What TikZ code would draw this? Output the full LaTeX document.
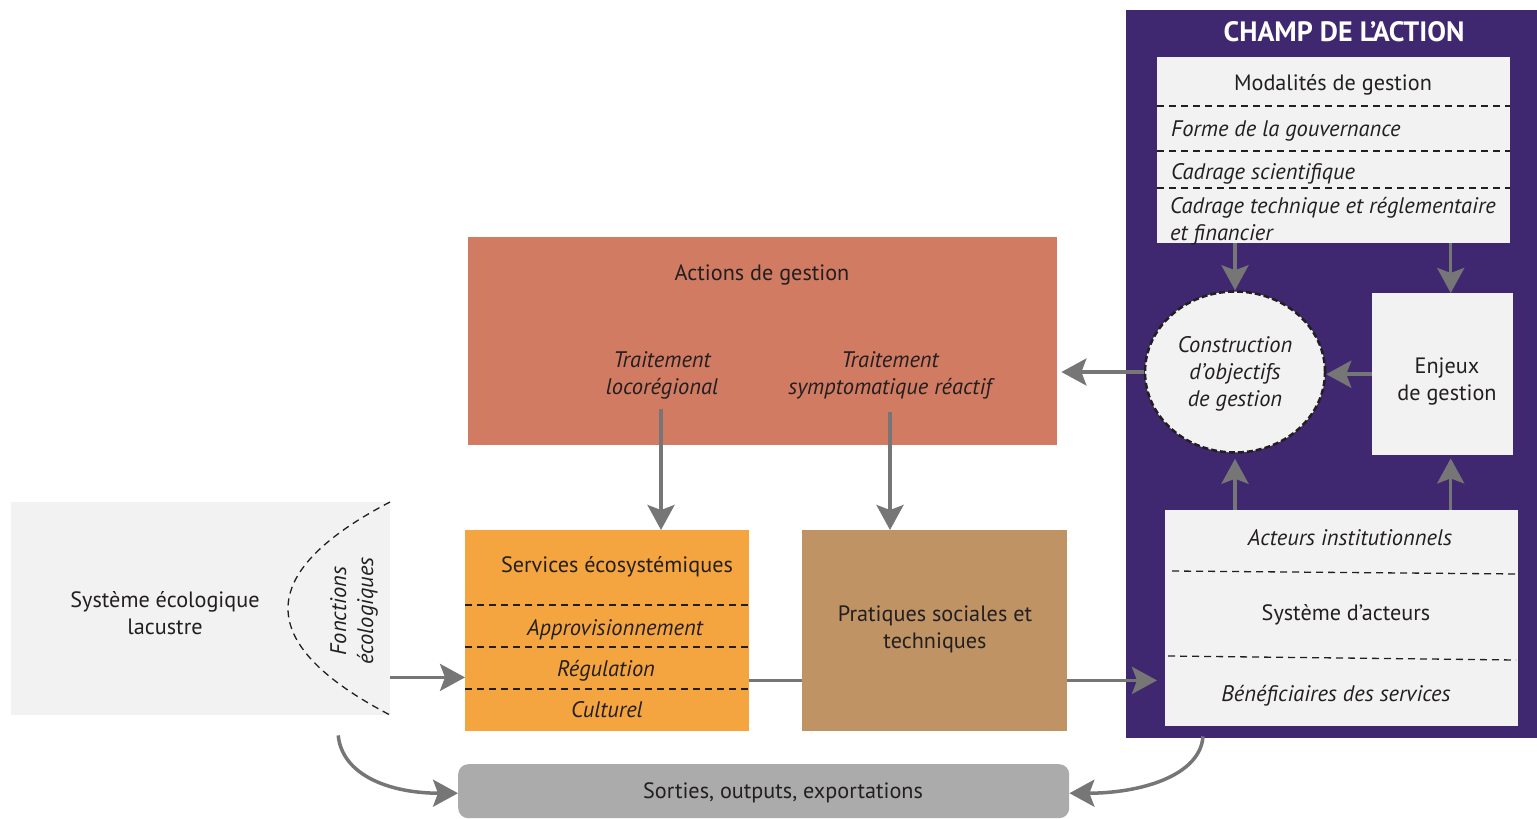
\documentclass[tikz,border=0pt]{standalone}
\usepackage{fontspec}
\setmainfont{PT Sans}
\usetikzlibrary{arrows.meta,calc,shapes.geometric}
\definecolor{purp}{HTML}{3F2870}
\definecolor{lightbox}{HTML}{F2F2F2}
\definecolor{actcol}{HTML}{D07B62}
\definecolor{servcol}{HTML}{F5A540}
\definecolor{pratcol}{HTML}{BF9364}
\definecolor{sortcol}{HTML}{ABABAB}
\definecolor{arrgray}{HTML}{767676}
\definecolor{ink}{HTML}{231F20}
\tikzset{
  boxnw/.style={inner sep=0pt, anchor=north west},
  txt/.style={inner sep=0pt, text=ink, font=\fontsize{22.2}{27}\selectfont, align=center, yshift=-2pt},
  itxt/.style={txt, font=\fontsize{22.5}{27}\selectfont\itshape},
  dline/.style={draw=ink, line width=1.3pt, dash pattern=on 7pt off 5pt},
  arr/.style={draw=arrgray, line width=3.5pt, -{Stealth[length=25pt,width=27pt,inset=5pt]}},
  plainline/.style={draw=arrgray, line width=3.5pt}
}
\begin{document}
\begin{tikzpicture}[x=1pt,y=-1pt]
\useasboundingbox (0,0) rectangle (1537,819);
% champ de l'action
\node[boxnw, fill=purp, minimum width=411pt, minimum height=728pt] (champ) at (1126,10) {};
\node[inner sep=0pt, text=white, font=\fontsize{28}{32}\selectfont\bfseries] (title) at (1344,32) {CHAMP DE L’ACTION};
% modalites
\node[boxnw, fill=lightbox, minimum width=353pt, minimum height=186pt] (modal) at (1157,57) {};
\draw[dline] (1157,106) -- (1510,106);
\draw[dline] (1157,151) -- (1510,151);
\draw[dline] (1157,188) -- (1510,188);
\node[txt] (mod1) at (1333,83) {Modalités de gestion};
\node[itxt, anchor=west] (mod2) at (1171,129) {Forme de la gouvernance};
\node[itxt, anchor=west] (mod3) at (1171,172) {Cadrage scientifique};
\node[itxt, anchor=west, align=left] (mod4) at (1170,219) {Cadrage technique et réglementaire\\et financier};
% objectifs
\node[ellipse, fill=lightbox, draw=ink, line width=2.5pt, dash pattern=on 6pt off 3pt, minimum width=180pt, minimum height=161pt, inner sep=0pt] (obj) at (1235,372) {};
\node[itxt] (objt) at (1235,372) {Construction\\d’objectifs\\de gestion};
% enjeux
\node[boxnw, fill=lightbox, minimum width=141pt, minimum height=162pt] (enjeux) at (1372,293) {};
\node[txt] (enjt) at (1447,379) {Enjeux\\de gestion};
% acteurs
\node[boxnw, fill=lightbox, minimum width=353pt, minimum height=216pt] (acteurs) at (1165,510) {};
\draw[dline] (1172,571) -- (1520,574);
\draw[dline] (1168,656) -- (1516,660);
\node[itxt] (act1) at (1350,536) {Acteurs institutionnels};
\node[txt] (act2) at (1346,613) {Système d’acteurs};
\node[itxt] (act3) at (1336,694) {Bénéficiaires des services};
% actions de gestion
\node[boxnw, fill=actcol, minimum width=589pt, minimum height=208pt] (actions) at (468,237) {};
\node[txt] (actt) at (762,273) {Actions de gestion};
\node[itxt] (tl) at (662,373) {Traitement\\locorégional};
\node[itxt] (tr) at (890,373) {Traitement\\symptomatique réactif};
% services
\node[boxnw, fill=servcol, minimum width=284pt, minimum height=201pt] (serv) at (465,530) {};
\draw[dline] (465,605) -- (749,605);
\draw[dline] (465,647) -- (749,647);
\draw[dline] (465,689) -- (749,689);
\node[txt] (serv1) at (617,565) {Services écosystémiques};
\node[itxt] (serv2) at (615,628) {Approvisionnement};
\node[itxt] (serv3) at (606,669) {Régulation};
\node[itxt] (serv4) at (607,708) {Culturel};
% pratiques
\node[boxnw, fill=pratcol, minimum width=265pt, minimum height=201pt] (prat) at (802,530) {};
\node[txt] (pratt) at (935,627) {Pratiques sociales et\\techniques};
% systeme ecologique
\node[boxnw, fill=lightbox, minimum width=379pt, minimum height=213pt] (eco) at (11,502) {};
\node[txt] (ecot) at (165,611) {Système écologique\\lacustre};
\draw[dline] (390,502) .. controls (254,573) and (254,644) .. (390,715);
\node[itxt, rotate=90, yshift=0pt, xshift=-2pt] (fonc) at (354,607) {Fonctions\\écologiques};
% sorties
\node[boxnw, fill=sortcol, rounded corners=10pt, minimum width=611pt, minimum height=54pt] (sort) at (458,764) {};
\node[txt] (sortt) at (783,791) {Sorties, outputs, exportations};
% helper coordinates
\coordinate (enjtop) at ($(enjeux.north)+(8,0)$);
\coordinate (enjbot) at ($(enjeux.south)+(8,0)$);
\coordinate (tlstart) at ($(tl.south)+(-1,10)$);
\coordinate (trstart) at ($(tr.south)+(0,13)$);
\coordinate (ecoarr) at ($(eco.south east)+(0,-38)$);
\coordinate (servline) at ($(serv.south east)+(0,-51)$);
\coordinate (pratline) at ($(prat.south east)+(0,-51)$);
\coordinate (ecoout) at ($(eco.south)+(137.5,20)$);
\coordinate (actout) at ($(acteurs.south west)+(38,10)$);
% connectors
\draw[arr] (modal.south -| obj.north) -- (obj.north);
\draw[arr] (enjtop |- modal.south) -- (enjtop);
\draw[arr] (enjeux.west) -- (enjeux.west -| obj.east);
\draw[arr, shorten >=5pt] (obj.south |- acteurs.north) -- (obj.south);
\draw[arr, shorten >=3pt] (enjbot |- acteurs.north) -- (enjbot);
\draw[arr, shorten >=4pt] (obj.west) -- (obj.west -| actions.east);
\draw[arr] (tlstart) -- (tlstart |- serv.north);
\draw[arr] (trstart) -- (trstart |- prat.north);
\draw[arr] (ecoarr) -- (ecoarr -| serv.west);
\draw[plainline] (servline) -- (servline -| prat.west);
\draw[arr, shorten >=8pt] (pratline) -- (pratline -| acteurs.west);
\draw[arr] (ecoout) .. controls ($(ecoout)+(4,40)$) and ($(sort.west)+(-68,2)$) .. ($(sort.west)+(0,2)$);
\draw[arr] (actout) .. controls ($(actout)+(-3,40)$) and ($(sort.east)+(70,2)$) .. ($(sort.east)+(0,2)$);
\end{tikzpicture}
\end{document}
